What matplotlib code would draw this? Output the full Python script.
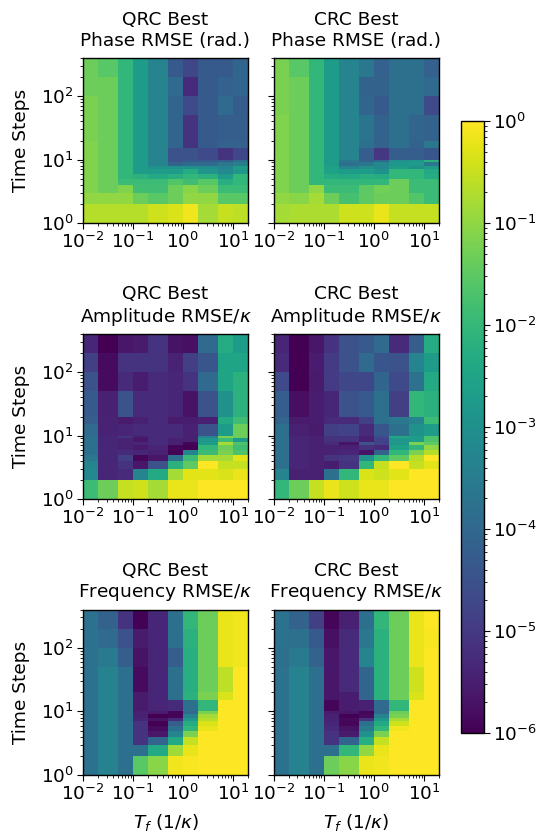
import numpy as np
import matplotlib
matplotlib.use("Agg")
import matplotlib.pyplot as plt
from matplotlib.colors import LogNorm
from matplotlib.ticker import LogLocator, NullFormatter

W, H = 544, 832
tf_edges = [0.01, 0.02, 0.05, 0.1, 0.2, 0.5, 1, 2, 5, 10, 20]
step_edges = [1, 2, 3, 4, 5, 6, 7, 8, 9, 10, 15, 20, 50, 100, 200, 400]
row_titles = ["Phase RMSE (rad.)", "Amplitude RMSE/$\\kappa$", "Frequency RMSE/$\\kappa$"]
col_titles = ["QRC Best", "CRC Best"]
bar_ticks = [1e-6, 1e-5, 1e-4, 1e-3, 1e-2, 1e-1, 1e0]

# shade readings of each cell, rows run from the fewest time steps up
qrc_phase = [
 [.90,.90,.90,.90,.93,.95,.98,.88,.92,.91],
 [.85,.85,.85,.80,.77,.80,.85,.85,.77,.77],
 [.83,.80,.83,.73,.73,.80,.84,.80,.72,.72],
 [.83,.80,.72,.72,.72,.76,.73,.77,.67,.70],
 [.83,.80,.70,.68,.65,.67,.70,.68,.60,.70],
 [.83,.80,.70,.60,.60,.60,.66,.57,.52,.58],
 [.83,.80,.70,.60,.55,.55,.55,.53,.50,.60],
 [.83,.80,.70,.60,.50,.37,.40,.40,.45,.48],
 [.83,.80,.70,.60,.50,.30,.33,.33,.35,.42],
 [.83,.80,.70,.60,.50,.30,.30,.28,.22,.27],
 [.83,.80,.70,.60,.50,.38,.22,.33,.36,.36],
 [.82,.80,.70,.60,.50,.38,.22,.33,.35,.35],
 [.82,.80,.70,.60,.50,.38,.28,.33,.40,.34],
 [.80,.80,.70,.60,.50,.40,.20,.33,.36,.38],
 [.80,.77,.70,.60,.50,.33,.27,.33,.33,.38]]
crc_phase = [
 [.88,.89,.89,.89,.93,.93,.97,.92,.92,.92],
 [.85,.84,.88,.80,.74,.78,.80,.80,.76,.72],
 [.83,.80,.85,.72,.72,.78,.81,.80,.72,.72],
 [.83,.80,.70,.70,.70,.70,.70,.80,.72,.72],
 [.83,.80,.70,.66,.65,.67,.66,.70,.70,.66],
 [.83,.80,.70,.62,.60,.60,.55,.70,.70,.65],
 [.83,.80,.70,.62,.50,.55,.52,.60,.55,.60],
 [.83,.80,.70,.60,.42,.45,.52,.58,.60,.45],
 [.83,.80,.70,.60,.45,.37,.40,.55,.58,.68],
 [.83,.80,.70,.60,.50,.35,.23,.35,.35,.32],
 [.83,.80,.70,.60,.50,.42,.37,.42,.37,.45],
 [.83,.80,.70,.60,.50,.44,.37,.42,.38,.37],
 [.82,.80,.70,.60,.50,.38,.33,.42,.42,.28],
 [.82,.80,.70,.60,.50,.37,.37,.42,.42,.40],
 [.82,.77,.70,.60,.50,.45,.36,.42,.42,.36]]
qrc_amp = [
 [.72,.80,.92,.93,.88,.97,.97,1.0,1.0,1.0],
 [.52,.18,.20,.50,.65,.88,.96,.96,.95,.97],
 [.50,.18,.22,.10,.30,.68,.78,1.0,.92,.92],
 [.45,.18,.25,.02,.10,.42,.72,.88,.88,.96],
 [.42,.18,.20,.18,.15,.01,.50,.72,.82,.75],
 [.42,.18,.16,.12,.17,.02,.00,.70,.80,.73],
 [.42,.18,.16,.17,.20,.15,.02,.60,.88,.75],
 [.42,.18,.16,.10,.20,.15,.15,.58,.72,.60],
 [.42,.18,.22,.13,.20,.20,.15,.50,.82,.80],
 [.40,.16,.17,.20,.20,.20,.15,.30,.60,.80],
 [.35,.16,.12,.15,.20,.12,.13,.15,.65,.73],
 [.33,.15,.30,.20,.20,.18,.08,.30,.55,.68],
 [.30,.05,.20,.13,.20,.18,.22,.40,.63,.68],
 [.25,.05,.22,.22,.22,.16,.25,.32,.63,.63],
 [.18,.00,.10,.12,.22,.08,.07,.40,.66,.60]]
crc_amp = [
 [.70,.80,.92,.97,.93,.97,.97,1.0,1.0,1.0],
 [.50,.15,.15,.42,.70,.95,.93,.96,1.0,1.0],
 [.42,.17,.15,.13,.22,.70,.92,1.0,.92,.96],
 [.42,.17,.15,.22,.23,.55,.70,.78,.90,1.0],
 [.42,.17,.15,.16,.17,.08,.37,.70,.82,.90],
 [.42,.17,.15,.15,.15,.22,.20,.62,.70,.85],
 [.42,.17,.15,.20,.08,.30,.26,.58,.82,.78],
 [.42,.17,.15,.22,.22,.15,.26,.58,.60,.75],
 [.42,.17,.15,.22,.22,.15,.28,.64,.60,.75],
 [.42,.15,.12,.25,.26,.20,.32,.42,.55,.60],
 [.38,.12,.13,.20,.20,.25,.42,.45,.50,.72],
 [.35,.06,.13,.18,.30,.33,.42,.25,.70,.68],
 [.28,.00,.12,.24,.27,.27,.38,.28,.43,.65],
 [.20,.00,.13,.24,.30,.40,.32,.30,.50,.60],
 [.17,.00,.10,.22,.30,.33,.40,.20,.35,.66]]
qrc_freq = [
 [.43,.49,.42,.77,.84,.98,.99,1.0,1.0,1.0],
 [.43,.49,.42,.42,.65,.87,.97,1.0,1.0,1.0],
 [.43,.49,.42,.22,.38,.65,.92,1.0,1.0,1.0],
 [.43,.49,.42,.22,.10,.50,.82,1.0,1.0,1.0],
 [.43,.49,.42,.22,.05,.42,.70,.97,1.0,1.0],
 [.43,.49,.42,.22,.00,.35,.66,.95,1.0,1.0],
 [.43,.49,.42,.18,.08,.20,.58,.90,1.0,1.0],
 [.43,.49,.42,.15,.00,.02,.50,.88,1.0,1.0],
 [.43,.49,.42,.15,.12,.02,.40,.82,1.0,1.0],
 [.43,.49,.42,.12,.17,.20,.42,.70,1.0,1.0],
 [.43,.49,.42,.12,.18,.42,.68,.82,.95,1.0],
 [.43,.49,.42,.05,.18,.42,.67,.80,.91,1.0],
 [.43,.46,.35,.08,.18,.35,.67,.80,.97,.98],
 [.43,.40,.30,.12,.17,.42,.68,.80,.97,.98],
 [.43,.37,.22,.01,.18,.42,.70,.80,.97,.98]]
crc_freq = [
 [.43,.49,.42,.80,.84,.97,.98,1.0,1.0,1.0],
 [.43,.49,.42,.42,.70,.85,.97,1.0,1.0,1.0],
 [.43,.49,.42,.22,.38,.67,.92,1.0,1.0,1.0],
 [.43,.49,.42,.22,.12,.55,.82,1.0,1.0,1.0],
 [.43,.49,.42,.20,.08,.47,.70,.98,1.0,1.0],
 [.43,.49,.42,.18,.02,.42,.65,.93,1.0,1.0],
 [.43,.49,.42,.16,.04,.22,.58,.88,1.0,1.0],
 [.43,.49,.42,.15,.01,.05,.50,.82,1.0,1.0],
 [.43,.49,.42,.12,.10,.02,.40,.80,1.0,1.0],
 [.43,.49,.42,.02,.13,.15,.40,.70,1.0,1.0],
 [.43,.49,.42,.10,.13,.38,.68,.80,.95,1.0],
 [.43,.49,.42,.10,.20,.38,.68,.80,.93,1.0],
 [.42,.46,.37,.10,.20,.50,.68,.80,.97,1.0],
 [.43,.42,.33,.07,.20,.45,.68,.80,.97,.99],
 [.43,.37,.25,.02,.15,.42,.70,.80,.97,1.0]]
grids = [[qrc_phase, crc_phase], [qrc_amp, crc_amp], [qrc_freq, crc_freq]]
# shade reading -> decades above 1e-6
shade_scale = [0, .2, .3, .4, .5, .6, .7, .8, .9, 1]
decade_scale = [0, .72, 1.5, 2.05, 2.7, 3.3, 3.96, 4.65, 5.34, 6]

plt.rcParams.update({"font.family": "DejaVu Sans", "mathtext.fontset": "dejavusans",
                     "font.size": 13.3, "axes.linewidth": 1.0})
fig = plt.figure(figsize=(W / 100, H / 100), dpi=100)
norm = LogNorm(1e-6, 1e0)

def box(l, t, r, b):
    return [l / W, 1 - b / H, (r - l) / W, (b - t) / H]

lefts = [(83, 248), (273.5, 439)]
tops = [(58, 223), (334, 499), (609.5, 775)]
mesh = None
for i, (t, b) in enumerate(tops):
    for j, (l, r) in enumerate(lefts):
        ax = fig.add_axes(box(l, t, r, b))
        vals = 10 ** (np.interp(grids[i][j], shade_scale, decade_scale) - 6)
        mesh = ax.pcolormesh(tf_edges, step_edges, vals, cmap="viridis", norm=norm,
                             shading="flat", rasterized=True)
        ax.set_xscale("log")
        ax.set_yscale("log")
        ax.set_xlim(0.01, 20)
        ax.set_ylim(1, 400)
        ax.xaxis.set_major_locator(LogLocator(10, numticks=10))
        ax.xaxis.set_minor_locator(LogLocator(10, subs=np.arange(2, 10) * 0.1, numticks=10))
        ax.xaxis.set_minor_formatter(NullFormatter())
        ax.tick_params(which="major", length=4, width=0.8, labelsize=13.3, pad=2.5)
        ax.tick_params(which="minor", length=2.3, width=0.6)
        ax.set_title(col_titles[j] + "\n" + row_titles[i], fontsize=13.3, pad=9, linespacing=1.15)
        if j == 0:
            ax.set_ylabel("Time Steps", fontsize=13.3, labelpad=8)
        else:
            ax.tick_params(labelleft=False)
        if i == 2:
            ax.set_xlabel("$T_f$ (1/$\\kappa$)", fontsize=13.3, labelpad=6)

cax = fig.add_axes(box(461, 121, 484, 733))
cb = fig.colorbar(mesh, cax=cax, ticks=bar_ticks)
cb.ax.yaxis.set_minor_locator(LogLocator(10, subs=np.arange(2, 10) * 0.1, numticks=10))
cb.ax.yaxis.set_minor_formatter(NullFormatter())
cb.ax.tick_params(which="major", length=4, width=0.8, labelsize=13.3, pad=2.5)
cb.ax.tick_params(which="minor", length=2.3, width=0.6)
fig.savefig("out.png", dpi=100)
